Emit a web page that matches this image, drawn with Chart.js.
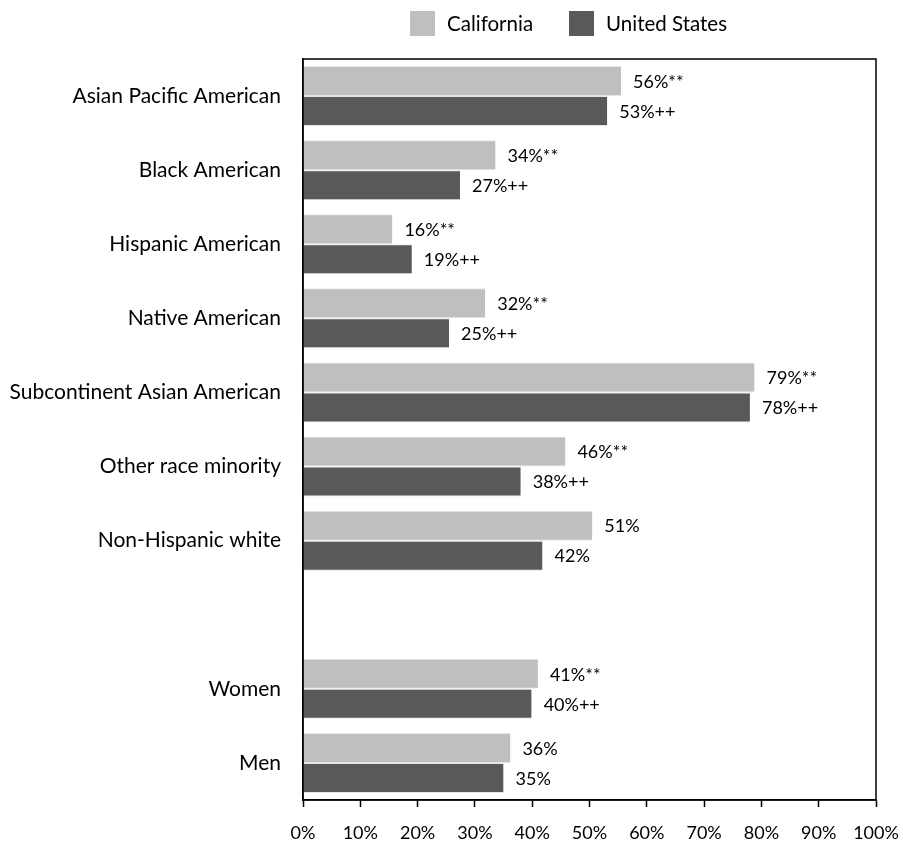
<!DOCTYPE html>
<html>
<head>
<meta charset="utf-8">
<script src="https://cdn.jsdelivr.net/npm/chart.js@4/dist/chart.umd.min.js"></script>
<style>
html,body{margin:0;padding:0;background:#fff;}
#wrap{width:903px;height:842px;position:relative;}
</style>
</head>
<body>
<div id="wrap"><canvas id="c" width="903" height="842"></canvas></div>
<script>
const categories = ["Asian Pacific American","Black American","Hispanic American","Native American","Subcontinent Asian American","Other race minority","Non-Hispanic white","","Women","Men"];
const californiaValues = [55.5, 33.6, 15.6, 31.8, 78.8, 45.8, 50.5, null, 41.0, 36.2];
const usValues = [53.1, 27.4, 19.0, 25.5, 78.0, 38.0, 41.8, null, 39.9, 35.0];
const californiaLabels = ["56%**","34%**","16%**","32%**","79%**","46%**","51%","","41%**","36%"];
const usLabels = ["53%++","27%++","19%++","25%++","78%++","38%++","42%","","40%++","35%"];
const xTicks = [0,10,20,30,40,50,60,70,80,90,100];
const seriesNames = ["California","United States"];

const FONT = "Lato";
const FS_CAT = 21;
const FS_TICK = 18;
const FS_VAL = 18;
const FS_LEG = 20.5;
Chart.defaults.font.family = FONT;
Chart.defaults.color = "#000";

const valueLabels = {
  id: "valueLabels",
  afterDatasetsDraw(chart) {
    const ctx = chart.ctx;
    const lbls = [californiaLabels, usLabels];
    ctx.save();
    ctx.font = FS_VAL + "px " + FONT;
    ctx.fillStyle = "#000";
    ctx.textAlign = "left";
    ctx.textBaseline = "middle";
    chart.data.datasets.forEach((ds, di) => {
      const meta = chart.getDatasetMeta(di);
      meta.data.forEach((bar, i) => {
        if (ds.data[i] == null) return;
        ctx.fillText(lbls[di][i], bar.x + 12, bar.y + 1);
      });
    });
    ctx.restore();
  }
};

const customLegend = {
  id: "customLegend",
  afterDraw(chart) {
    const ctx = chart.ctx;
    const items = [
      {x: 410, color: "#BFBFBF", text: seriesNames[0]},
      {x: 569, color: "#595959", text: seriesNames[1]}
    ];
    ctx.save();
    ctx.font = FS_LEG + "px " + FONT;
    ctx.textBaseline = "middle";
    ctx.textAlign = "left";
    items.forEach(it => {
      ctx.fillStyle = it.color;
      ctx.fillRect(it.x, 11, 25, 25);
      ctx.fillStyle = "#000";
      ctx.fillText(it.text, it.x + 37, 24);
    });
    ctx.restore();
  }
};

const frame = {
  id: "frame",
  afterDatasetsDraw(chart) {
    const a = chart.chartArea, ctx = chart.ctx;
    ctx.save();
    ctx.strokeStyle = "#000";
    ctx.lineWidth = 1.5;
    ctx.strokeRect(a.left, a.top, a.right - a.left, a.bottom - a.top);
    ctx.restore();
  }
};

new Chart(document.getElementById("c"), {
  type: "bar",
  data: {
    labels: categories,
    datasets: [
      {label: seriesNames[0], data: californiaValues, backgroundColor: "#BFBFBF", borderColor: "#E6E6E6", borderWidth: {top:1,bottom:1,right:0,left:0}, borderSkipped: false, categoryPercentage: 0.81, barPercentage: 1},
      {label: seriesNames[1], data: usValues, backgroundColor: "#595959", borderColor: "#E6E6E6", borderWidth: {top:1,bottom:1,right:0,left:0}, borderSkipped: false, categoryPercentage: 0.81, barPercentage: 1}
    ]
  },
  options: {
    indexAxis: "y",
    responsive: false,
    animation: false,
    layout: {padding: {top: 59, right: 27, left: 0, bottom: 0}},
    plugins: {legend: {display: false}, tooltip: {enabled: false}},
    scales: {
      x: {
        min: 0, max: 100,
        afterBuildTicks(s) { s.ticks = xTicks.map(v => ({value: v})); },
        afterFit(s) { s.height = 42; s.paddingLeft = 0; s.paddingRight = 0; },
        grid: {display: true, drawOnChartArea: false, drawTicks: true, tickLength: 7, tickColor: "#000", tickWidth: 1.5, color: "#000"},
        border: {display: true, color: "#000", width: 1.5},
        ticks: {callback: v => v + "%", padding: 15, maxRotation: 0, autoSkip: false, color: "#000", font: {size: FS_TICK}}
      },
      y: {
        afterFit(s) { s.width = 303; },
        grid: {display: false, drawTicks: false},
        border: {display: true, color: "#000", width: 1.5},
        ticks: {padding: 22, autoSkip: false, color: "#000", font: {size: FS_CAT}}
      }
    }
  },
  plugins: [valueLabels, customLegend, frame]
});
</script>
</body>
</html>
